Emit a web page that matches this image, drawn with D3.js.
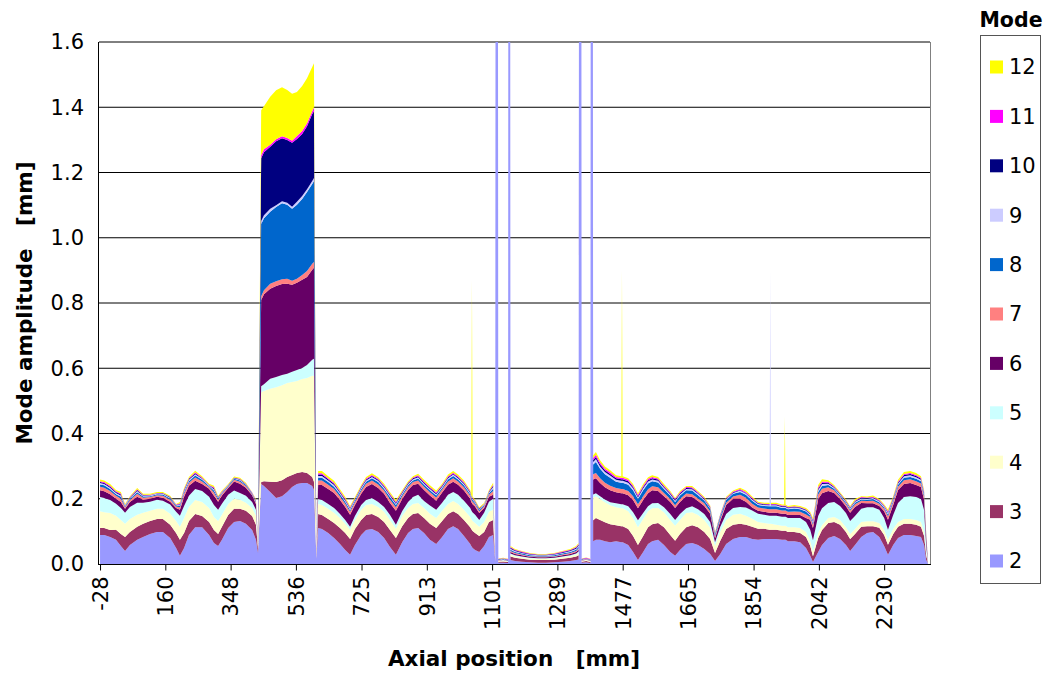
<!DOCTYPE html>
<html><head><meta charset="utf-8">
<script src="https://cdn.jsdelivr.net/npm/d3@7"></script>
<style>
body{margin:0;background:#fff;}
text{font-family:"DejaVu Sans",Verdana,sans-serif;fill:#000;}
</style>
</head><body>
<svg id="chart" width="1044" height="675"></svg>
<script>
// Axial position of each sample [mm]
const axialPos = [
-28,-16,1,18,32,44,58,79,96,116,
136,153,174,191,202,214,228,246,266,286,
300,312,323,341,358,375,392,410,421,427,
436,444,462,479,496,511,525,539,554,568,
583,588,595,600,611,629,646,663,678,692,
706,724,738,755,773,790,807,824,842,859,
873,888,905,922,940,957,974,989,1003,1020,
1038,1041,1043,1045,1052,1064,1078,1092,1104,1110,
1114,1119,1133,1147,1150,1154,1167,1187,1210,1233,
1256,1280,1303,1326,1343,1350,1355,1359,1372,1384,
1388,1392,1400,1412,1426,1441,1458,1473,1475,1477,
1493,1507,1521,1536,1550,1562,1579,1596,1614,1628,
1642,1660,1677,1694,1712,1729,1743,1758,1775,1795,
1815,1832,1850,1867,1884,1900,1902,1904,1919,1936,
1942,1944,1946,1953,1971,1988,2005,2017,2025,2040,
2051,2069,2086,2103,2120,2132,2146,2164,2181,2198,
2216,2230,2241,2256,2270,2287,2305,2322,2336,2345,
2351,2356];

// Mode amplitudes [mm]
const mode2 = [
.089,.089,.083,.074,.055,.040,.058,.074,.083,.092,
.098,.098,.080,.049,.025,.049,.089,.113,.113,.089,
.064,.055,.074,.110,.129,.132,.123,.104,.074,.034,
.245,.239,.221,.202,.208,.221,.236,.245,.248,.248,
.239,.227,.015,.110,.107,.095,.080,.061,.043,.028,
.058,.089,.104,.107,.098,.080,.052,.028,.067,.095,
.107,.110,.095,.074,.061,.083,.107,.116,.107,.086,
.061,.055,.052,.049,.043,.037,.055,.083,.089,.005,
8,.004,.004,.003,8,.012,.009,.007,.005,.004,
.004,.005,.007,.009,.012,.014,8,.004,.005,.003,
8,.070,.074,.074,.070,.067,.070,.067,.067,.067,
.058,.037,.012,.037,.061,.070,.074,.058,.037,.025,
.043,.061,.064,.058,.046,.031,.009,.031,.061,.077,
.083,.083,.077,.074,.077,.077,.077,.077,.077,.074,
.074,.074,.074,.070,.070,.067,.049,.025,.006,.037,
.058,.080,.086,.077,.058,.040,.058,.083,.095,.098,
.083,.055,.028,.058,.080,.089,.089,.086,.083,.058,
.012,.002];
const mode3 = [
.021,.021,.021,.031,.037,.043,.040,.040,.040,.040,
.040,.040,.040,.046,.049,.046,.043,.040,.034,.040,
.040,.037,.040,.040,.040,.037,.040,.043,.046,.012,
.006,.015,.031,.049,.049,.046,.037,.034,.034,.031,
.028,.025,.003,.043,.043,.043,.046,.049,.052,.049,
.049,.046,.046,.046,.046,.049,.052,.052,.049,.046,
.046,.046,.046,.049,.049,.049,.046,.046,.046,.049,
.052,.052,.052,.052,.052,.049,.043,.046,.046,.002,
.002,.003,.004,.003,.003,.011,.010,.009,.008,.008,
.008,.008,.009,.010,.011,.013,.003,.003,.004,.003,
.003,.064,.067,.061,.058,.055,.049,.049,.049,.049,
.049,.049,.046,.049,.052,.052,.052,.055,.052,.046,
.049,.052,.055,.055,.052,.046,.025,.040,.046,.043,
.040,.037,.037,.034,.031,.028,.028,.028,.028,.028,
.028,.028,.028,.028,.028,.028,.034,.031,.018,.043,
.046,.046,.043,.043,.040,.037,.034,.031,.021,.018,
.028,.034,.031,.034,.034,.034,.034,.034,.031,.028,
.015,.001];
const mode4 = [
.052,.049,.052,.043,.043,.040,.040,.037,.034,.031,
.031,.031,.034,.037,.040,.046,.043,.043,.043,.043,
.040,.040,.037,.034,.031,.028,.025,.025,.028,.009,
.276,.276,.285,.291,.291,.288,.285,.282,.285,.291,
.310,.325,.003,.031,.031,.031,.031,.031,.028,.028,
.028,.031,.031,.031,.031,.031,.031,.028,.031,.031,
.031,.031,.031,.031,.031,.031,.031,.031,.031,.031,
.031,.031,.031,.031,.031,.028,.031,.031,.031,.002,
.002,.002,.003,.002,.002,.006,.005,.005,.004,.004,
.004,.004,.005,.005,.006,.007,.002,.002,.003,.002,
.002,.070,.067,.064,.061,.058,.055,.055,.055,.055,
.055,.055,.055,.052,.049,.049,.046,.046,.046,.046,
.043,.043,.040,.037,.037,.034,.021,.028,.028,.031,
.031,.028,.025,.021,.018,.018,.018,.018,.015,.015,
.015,.015,.015,.015,.015,.015,.015,.015,.015,.015,
.015,.015,.015,.015,.015,.015,.015,.015,.015,.015,
.015,.015,.015,.015,.015,.015,.015,.015,.015,.012,
.009,.001];
const mode5 = [
.043,.043,.040,.037,.037,.034,.037,.037,.031,.028,
.028,.025,.028,.028,.034,.037,.034,.034,.034,.034,
.037,.034,.034,.028,.025,.021,.021,.018,.018,.006,
.018,.021,.031,.031,.031,.028,.031,.034,.034,.040,
.049,.052,.002,.015,.015,.015,.015,.012,.012,.009,
.012,.015,.015,.018,.015,.015,.015,.012,.015,.018,
.021,.025,.021,.025,.025,.025,.028,.028,.028,.028,
.028,.027,.026,.026,.025,.021,.028,.031,.034,.002,
.002,.001,.001,.001,.001,.003,.003,.002,.002,.002,
.002,.002,.002,.003,.003,.004,.001,.001,.001,.001,
.001,.009,.009,.009,.009,.009,.012,.012,.012,.012,
.015,.018,.021,.018,.015,.015,.015,.015,.018,.018,
.018,.015,.018,.018,.018,.018,.012,.015,.018,.021,
.021,.025,.025,.025,.025,.025,.025,.025,.028,.028,
.028,.028,.028,.028,.028,.031,.031,.034,.034,.052,
.052,.046,.046,.043,.043,.040,.040,.040,.043,.043,
.040,.037,.031,.043,.058,.067,.070,.070,.070,.067,
.021,.001];
const mode6 = [
.021,.021,.018,.015,.018,.012,.015,.018,.009,.009,
.009,.009,.009,.012,.018,.028,.031,.025,.021,.025,
.028,.025,.025,.021,.028,.028,.025,.021,.018,.003,
.264,.276,.276,.279,.279,.276,.267,.267,.270,.270,
.276,.279,.002,.043,.046,.046,.046,.043,.040,.037,
.034,.034,.040,.043,.043,.040,.037,.043,.037,.037,
.037,.034,.034,.031,.028,.031,.031,.031,.031,.031,
.028,.026,.025,.025,.025,.021,.015,.015,.012,.002,
.002,.001,.001,.001,.001,.005,.004,.004,.003,.003,
.003,.003,.004,.004,.005,.006,.001,.001,.001,.001,
.001,.046,.046,.040,.037,.037,.034,.034,.034,.034,
.034,.037,.037,.040,.040,.040,.037,.034,.037,.037,
.037,.037,.028,.025,.025,.025,.012,.018,.028,.028,
.025,.018,.009,.009,.009,.009,.009,.009,.009,.009,
.009,.009,.009,.009,.009,.009,.012,.031,.037,.052,
.046,.037,.028,.021,.021,.025,.028,.018,.012,.012,
.012,.021,.031,.031,.040,.040,.040,.037,.037,.031,
.021,.001];
const mode7 = [
.011,.011,.010,.009,.010,.005,.006,.009,.006,.005,
.005,.006,.006,.004,.008,.009,.009,.010,.008,.005,
.010,.006,.005,.004,.005,.006,.005,.003,.005,.003,
.012,.012,.015,.015,.015,.015,.012,.012,.015,.018,
.018,.018,.001,.014,.014,.013,.012,.011,.010,.009,
.008,.009,.010,.011,.011,.010,.011,.011,.009,.009,
.009,.010,.010,.010,.010,.009,.010,.011,.010,.010,
.009,.008,.008,.008,.007,.006,.005,.007,.012,.001,
.001,.001,.001,.001,.001,.003,.003,.002,.002,.002,
.002,.002,.002,.003,.003,.004,.001,.001,.001,.001,
.001,.016,.016,.015,.014,.014,.013,.013,.013,.013,
.013,.012,.012,.012,.012,.012,.011,.010,.009,.008,
.009,.008,.009,.008,.008,.007,.005,.006,.007,.007,
.012,.012,.012,.010,.010,.011,.011,.011,.011,.010,
.010,.010,.010,.010,.011,.010,.011,.008,.010,.014,
.014,.011,.008,.007,.007,.007,.008,.007,.007,.008,
.007,.007,.010,.009,.010,.012,.012,.012,.011,.010,
.006,.001];
const mode8 = [
.007,.007,.006,.005,.006,.003,.004,.005,.004,.003,
.003,.004,.004,.003,.005,.005,.005,.006,.005,.003,
.006,.004,.003,.003,.003,.004,.003,.002,.003,.002,
.221,.221,.221,.227,.233,.227,.221,.227,.233,.242,
.245,.248,.001,.008,.008,.008,.007,.007,.006,.005,
.005,.005,.006,.007,.007,.006,.007,.007,.005,.005,
.005,.006,.006,.006,.006,.005,.006,.007,.006,.006,
.005,.005,.005,.005,.004,.004,.003,.004,.007,.001,
.001,.001,.001,.001,.001,.004,.003,.003,.003,.002,
.002,.003,.003,.003,.004,.005,.001,.001,.001,.001,
.001,.030,.034,.029,.026,.024,.019,.019,.019,.019,
.019,.018,.016,.018,.018,.016,.015,.012,.011,.010,
.011,.010,.011,.010,.009,.008,.006,.007,.008,.008,
.009,.009,.009,.008,.008,.009,.009,.009,.009,.008,
.008,.008,.008,.008,.009,.008,.009,.005,.006,.008,
.008,.007,.005,.004,.004,.004,.005,.004,.004,.005,
.004,.004,.006,.005,.006,.007,.007,.007,.007,.006,
.004,.001];
const mode9 = [
.004,.004,.004,.004,.004,.002,.002,.004,.002,.002,
.002,.002,.002,.001,.003,.004,.004,.004,.003,.002,
.004,.002,.002,.001,.002,.002,.002,.001,.002,.001,
.009,.009,.009,.006,.006,.006,.006,.009,.009,.009,
.009,.009,.001,.006,.006,.005,.005,.004,.004,.004,
.003,.004,.004,.004,.004,.004,.004,.004,.004,.004,
.004,.004,.004,.004,.004,.004,.004,.004,.004,.004,
.004,.003,.003,.003,.003,.002,.002,.003,.005,.001,
.001,.001,.001,.001,.001,.003,.003,.002,.002,.002,
.002,.002,.002,.003,.003,.003,.001,.001,.001,.001,
.001,.008,.009,.007,.007,.007,.006,.006,.006,.006,
.006,.006,.005,.006,.006,.005,.005,.004,.004,.004,
.004,.004,.004,.004,.003,.003,.002,.003,.003,.003,
.004,.004,.004,.003,.003,.003,.723,.003,.003,.003,
.003,.003,.003,.003,.003,.003,.003,.003,.004,.006,
.006,.004,.003,.003,.003,.003,.003,.003,.003,.003,
.003,.003,.004,.004,.004,.005,.005,.005,.004,.004,
.002,.001];
const mode10 = [
.003,.003,.003,.003,.003,.001,.002,.003,.002,.001,
.001,.002,.002,.001,.002,.003,.003,.003,.002,.001,
.003,.002,.001,.001,.001,.002,.001,.001,.001,.001,
.193,.193,.190,.196,.193,.193,.196,.193,.190,.193,
.205,.205,.001,.004,.004,.004,.004,.003,.003,.003,
.002,.003,.003,.003,.003,.003,.003,.003,.003,.003,
.003,.003,.003,.003,.003,.003,.003,.003,.003,.003,
.003,.002,.002,.002,.002,.002,.001,.002,.004,.001,
.001,.001,.001,.001,.001,.003,.002,.002,.002,.001,
.001,.002,.002,.002,.003,.003,.001,.001,.001,.001,
.001,.006,.006,.006,.005,.005,.005,.005,.005,.005,
.005,.004,.004,.004,.004,.004,.004,.003,.003,.003,
.003,.003,.003,.003,.002,.002,.002,.002,.002,.002,
.002,.002,.002,.002,.002,.002,.002,.002,.002,.002,
.002,.002,.002,.002,.002,.002,.002,.002,.003,.004,
.004,.003,.002,.002,.002,.002,.002,.002,.002,.002,
.002,.002,.003,.003,.003,.004,.004,.004,.003,.003,
.002,.001];
const mode11 = [
.003,.003,.003,.002,.003,.001,.001,.002,.001,.001,
.001,.001,.001,.001,.002,.002,.002,.003,.002,.001,
.003,.001,.001,.001,.001,.001,.001,.001,.001,.001,
.009,.009,.006,.006,.006,.006,.006,.009,.009,.009,
.009,.012,.001,.004,.004,.003,.003,.003,.003,.002,
.002,.002,.003,.003,.003,.003,.003,.003,.002,.002,
.002,.003,.003,.003,.003,.002,.003,.003,.003,.003,
.002,.002,.002,.002,.002,.001,.001,.002,.003,.001,
.001,.001,.001,.001,.001,.002,.002,.002,.001,.001,
.001,.001,.002,.002,.002,.002,.001,.001,.001,.001,
.001,.006,.007,.006,.005,.005,.004,.004,.004,.004,
.004,.004,.004,.004,.004,.004,.003,.003,.003,.003,
.003,.003,.003,.003,.002,.002,.001,.002,.002,.002,
.003,.003,.003,.002,.002,.002,.002,.002,.002,.002,
.002,.002,.002,.002,.002,.002,.002,.002,.003,.004,
.004,.003,.002,.002,.002,.002,.002,.002,.002,.002,
.002,.002,.003,.002,.003,.003,.003,.003,.003,.003,
.001,.001];
const mode12 = [
.005,.005,.005,.004,.005,.003,.003,.004,.003,.003,
.003,.003,.003,.002,.004,.004,.004,.005,.004,.003,
.005,.003,.003,.002,.003,.003,.003,.001,.003,.001,
.138,.132,.147,.150,.150,.147,.144,.135,.138,.138,
.135,.135,.001,.007,.007,.006,.006,.005,.005,.004,
.004,.004,.005,.005,.005,.005,.005,.005,.004,.004,
.004,.005,.005,.005,.005,.004,.005,.005,.005,.005,
.004,.004,.664,.004,.003,.003,.003,.003,.006,.001,
.001,.001,.001,.001,.001,.003,.002,.002,.002,.002,
.002,.002,.002,.002,.003,.003,.001,.001,.001,.001,
.001,.008,.008,.007,.007,.006,.005,.005,.635,.005,
.005,.005,.005,.005,.005,.005,.005,.005,.004,.003,
.004,.003,.004,.003,.004,.003,.002,.001,.003,.003,
.004,.004,.004,.003,.003,.004,.004,.004,.004,.003,
.003,.273,.003,.003,.004,.003,.004,.004,.005,.007,
.007,.005,.004,.003,.003,.003,.004,.003,.003,.004,
.003,.003,.005,.004,.005,.006,.006,.006,.005,.005,
.003,.001];

const modeNames = ["2","3","4","5","6","7","8","9","10","11","12"];
const modeColors = ["#9999FF","#993366","#FFFFCC","#CCFFFF","#660066","#FF8080","#0066CC","#CCCCFF","#000080","#FF00FF","#FFFF00"];
const xTickLabels = [-28,160,348,536,725,913,1101,1289,1477,1665,1854,2042,2230];
const yTickValues = [0,0.2,0.4,0.6,0.8,1.0,1.2,1.4,1.6];

const seriesArrays = [mode2,mode3,mode4,mode5,mode6,mode7,mode8,mode9,mode10,mode11,mode12];
const rows = axialPos.map((p,i)=>{
  const r = {pos:p};
  modeNames.forEach((m,k)=>{ r[m] = seriesArrays[k][i]; });
  return r;
});

const svg = d3.select("#chart");
svg.append("rect").attr("width",1044).attr("height",675).attr("fill","#fff");

const L = 99, R = 930, T = 42, B = 564;
const x = d3.scaleLinear().domain([-31, 2362]).range([L, R]);
const y = d3.scaleLinear().domain([0, 1.6]).range([B, T]);

// gridlines
svg.append("g").selectAll("line").data(yTickValues.filter(v=>v>0)).join("line")
  .attr("x1",L).attr("x2",R).attr("y1",d=>y(d)).attr("y2",d=>y(d))
  .attr("stroke","#000").attr("stroke-width",1);

svg.append("clipPath").attr("id","plotclip").append("rect")
  .attr("x",L).attr("y",T).attr("width",R-L).attr("height",B-T);

const stack = d3.stack().keys(modeNames);
const layers = stack(rows);
const area = d3.area()
  .x(d=>x(d.data.pos)).y0(d=>y(d[0])).y1(d=>y(d[1]));

svg.append("g").attr("clip-path","url(#plotclip)")
  .selectAll("path").data(layers).join("path")
  .attr("d",area).attr("fill",(d,i)=>modeColors[i]);

// plot frame
svg.append("line").attr("x1",R+0.5).attr("x2",R+0.5).attr("y1",T).attr("y2",B)
  .attr("stroke","#808080").attr("stroke-width",1);
svg.append("line").attr("x1",L-0.5).attr("x2",L-0.5).attr("y1",T).attr("y2",B+0.5)
  .attr("stroke","#000").attr("stroke-width",1);
svg.append("line").attr("x1",L-1).attr("x2",R+1).attr("y1",B+0.5).attr("y2",B+0.5)
  .attr("stroke","#000").attr("stroke-width",1);

// x axis
const xAxis = d3.axisBottom(x).tickValues(xTickLabels).tickSize(6).tickFormat(d=>String(d));
const gx = svg.append("g").attr("transform",`translate(0,${B+0.5})`).call(xAxis);
gx.select(".domain").remove();
gx.selectAll(".tick line").attr("stroke","#000");
gx.selectAll(".tick text")
  .attr("font-family","DejaVu Sans, Verdana, sans-serif")
  .attr("font-size",21).attr("fill","#000")
  .attr("transform","rotate(-90)")
  .attr("text-anchor","end")
  .attr("x",-12).attr("y",0).attr("dy","0.35em");

// y axis labels
svg.append("g").selectAll("text").data(yTickValues).join("text")
  .attr("x",84).attr("y",d=>y(d)).attr("dy","0.35em")
  .attr("text-anchor","end").attr("font-size",21)
  .text(d=>d.toFixed(1));

// axis titles
svg.append("text").attr("x",514).attr("y",666).attr("text-anchor","middle")
  .attr("font-size",21.5).attr("font-weight","bold").style("white-space","pre")
  .text("Axial position   [mm]");
svg.append("text").attr("transform","translate(32,303) rotate(-90)").attr("text-anchor","middle")
  .attr("font-size",21.5).attr("font-weight","bold").style("white-space","pre")
  .text("Mode amplitude   [mm]");

// legend
svg.append("text").attr("x",1011).attr("y",27).attr("text-anchor","middle")
  .attr("font-size",20.5).attr("font-weight","bold").text("Mode");
svg.append("rect").attr("x",980.5).attr("y",35.5).attr("width",60).attr("height",548)
  .attr("fill","#fff").attr("stroke","#555").attr("stroke-width",1);
const legendOrder = modeNames.map((m,i)=>({name:m,color:modeColors[i]})).reverse();
const lg = svg.append("g").selectAll("g").data(legendOrder).join("g")
  .attr("transform",(d,i)=>`translate(990,${67 + i*49.4})`);
lg.append("rect").attr("x",0).attr("y",-6.5).attr("width",13).attr("height",13).attr("fill",d=>d.color);
lg.append("text").attr("x",19).attr("y",0).attr("dy","0.35em").attr("font-size",21).text(d=>d.name);
</script>
</body></html>
